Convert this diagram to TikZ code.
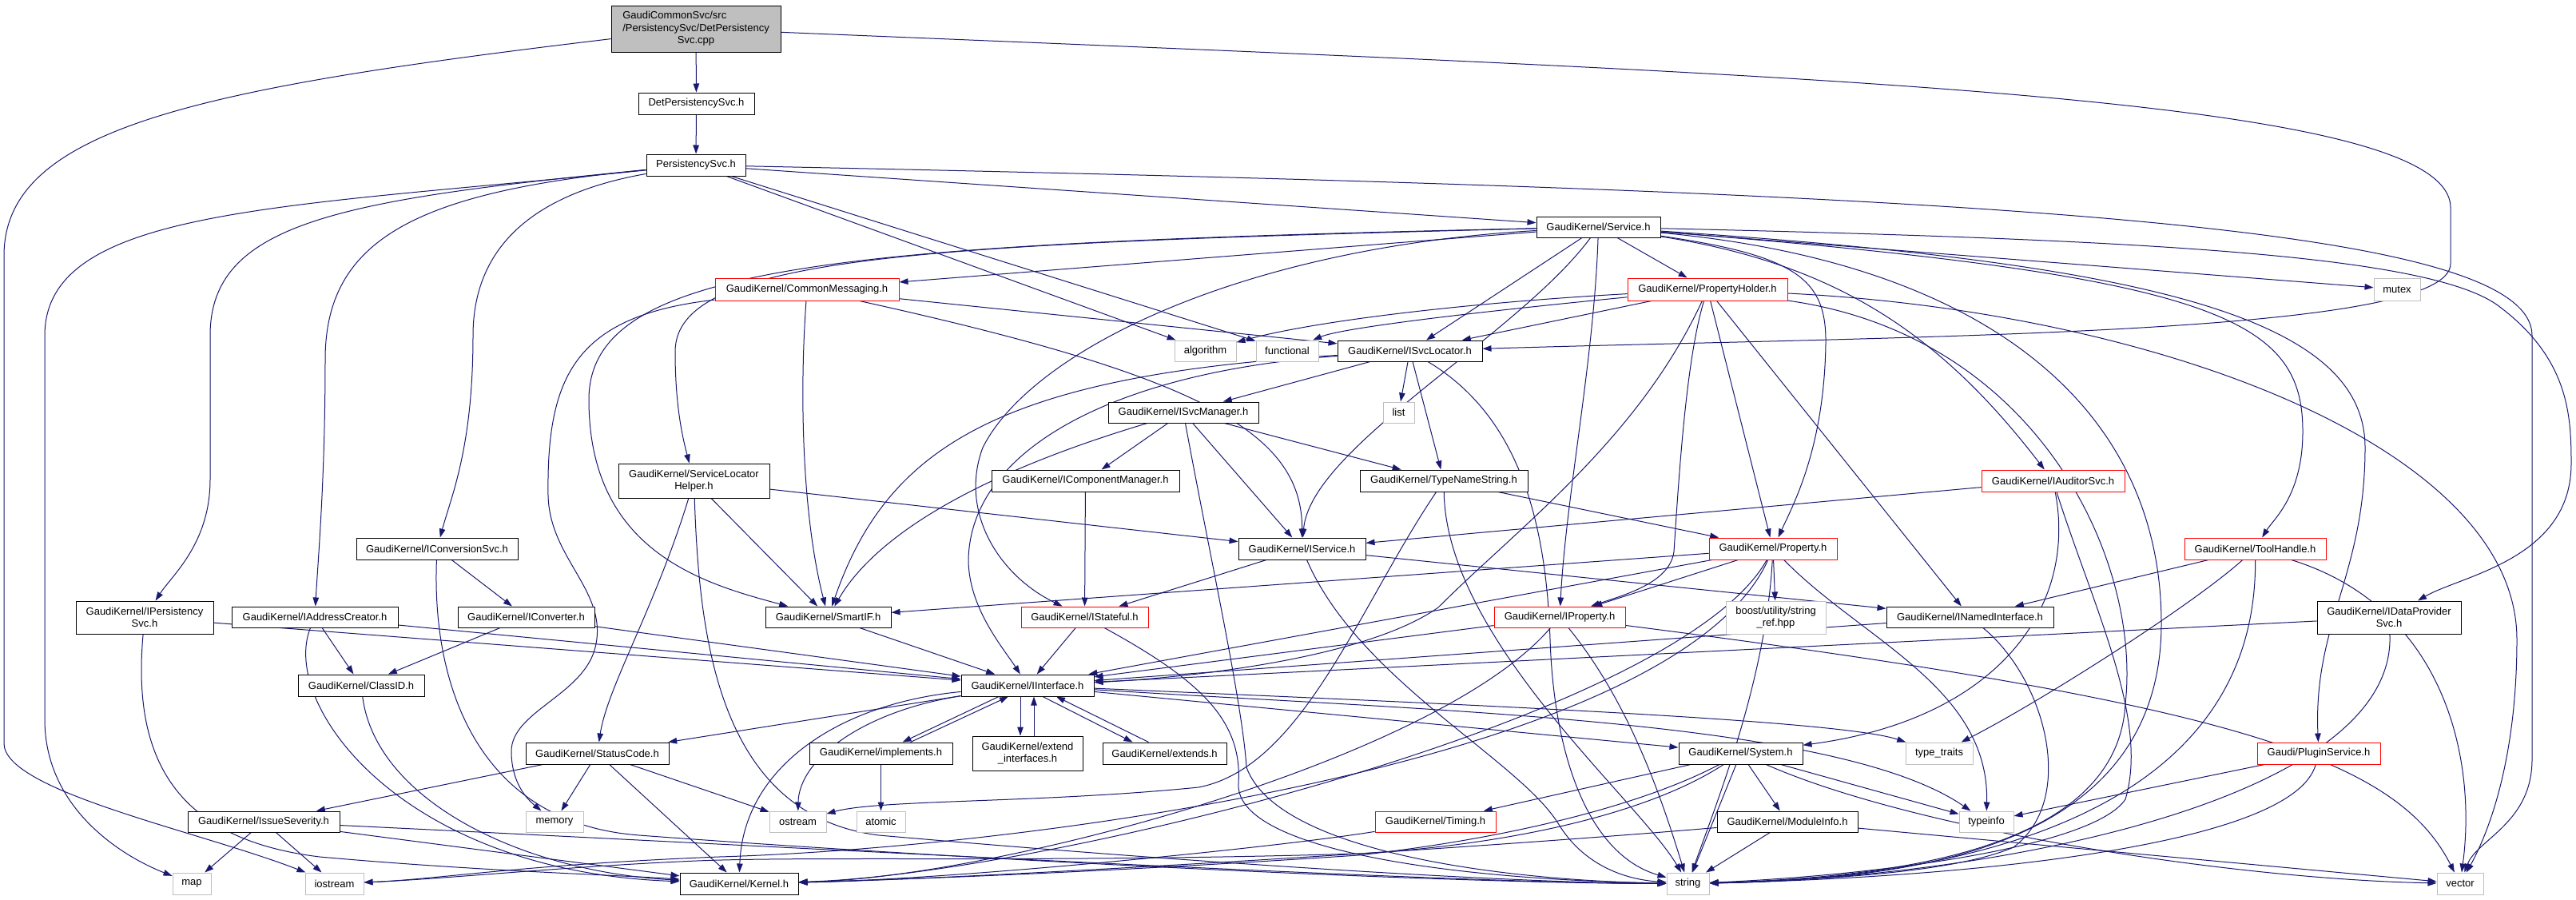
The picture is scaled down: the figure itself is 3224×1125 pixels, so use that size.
\documentclass[tikz,border=0pt]{standalone}
\usepackage{fontspec}
\setmainfont{Liberation Sans}
\usetikzlibrary{arrows.meta,backgrounds}
\definecolor{eb}{HTML}{191970}
\definecolor{gb}{HTML}{BFBFBF}
\begin{document}
\begin{tikzpicture}[x=1pt,y=-1pt,
  every node/.style={font=\fontsize{13}{15.5}\selectfont, inner sep=0pt, line width=1pt, text=black},
  bx/.style n args={2}{minimum width=#1pt, minimum height=#2pt},
  nb/.style={draw=black, fill=white},
  nr/.style={draw=red, fill=white},
  ng/.style={draw=gb, fill=white},
  e/.style={draw=eb, line width=1pt, -{Triangle[length=11pt,width=7.5pt]}}]
\useasboundingbox (0,0) rectangle (3224,1125);
% nodes
\node[nb,fill=gb,bx={212}{58},align=center] (cpp) at (871,36) {\rlap{GaudiCommonSvc/src}\phantom{/PersistencySvc/DetPersistency}\\/PersistencySvc/DetPersistency\\Svc.cpp};
\node[nb,bx={145}{27}] (det) at (871.5,129.5) {DetPersistencySvc.h};
\node[nb,bx={124}{27}] (pers) at (871,206.5) {PersistencySvc.h};
\node[nb,bx={155}{26}] (svc) at (2000.5,284) {GaudiKernel/Service.h};
\node[nr,bx={230}{28}] (cmsg) at (1010,362) {GaudiKernel/CommonMessaging.h};
\node[nr,bx={200}{28}] (phold) at (2137,362) {GaudiKernel/PropertyHolder.h};
\node[ng,bx={58}{28}] (mutex) at (3000,362) {mutex};
\node[ng,bx={77}{26}] (algo) at (1508.5,439) {algorithm};
\node[ng,bx={78}{26}] (func) at (1611,439) {functional};
\node[nb,bx={181}{26}] (isl) at (1764.5,439) {GaudiKernel/ISvcLocator.h};
\node[nb,bx={188}{26}] (ism) at (1481,516) {GaudiKernel/ISvcManager.h};
\node[ng,bx={39}{26}] (list) at (1750.5,516) {list};
\node[nb,bx={189}{43},align=center] (slh) at (868.5,601.5) {GaudiKernel/ServiceLocator\\Helper.h};
\node[nb,bx={235}{27}] (icm) at (1358.5,601.5) {GaudiKernel/IComponentManager.h};
\node[nb,bx={210}{27}] (tns) at (1807,601.5) {GaudiKernel/TypeNameString.h};
\node[nr,bx={179}{27}] (iaud) at (2569.5,601.5) {GaudiKernel/IAuditorSvc.h};
\node[nb,bx={202}{27}] (icvs) at (547,686.5) {GaudiKernel/IConversionSvc.h};
\node[nb,bx={159}{27}] (isv) at (1629.5,686.5) {GaudiKernel/IService.h};
\node[nr,bx={160}{27}] (prop) at (2219,686.5) {GaudiKernel/Property.h};
\node[nr,bx={177}{27}] (tool) at (2822.5,686.5) {GaudiKernel/ToolHandle.h};
\node[nb,bx={172}{41},align=center] (ipers) at (181,772.5) {GaudiKernel/IPersistency\\Svc.h};
\node[nb,bx={208}{26}] (iadd) at (394,772) {GaudiKernel/IAddressCreator.h};
\node[nb,bx={171}{26}] (icnv) at (658.5,772) {GaudiKernel/IConverter.h};
\node[nb,bx={157}{26}] (sif) at (1036.5,772) {GaudiKernel/SmartIF.h};
\node[nr,bx={159}{26}] (istf) at (1357.5,772) {GaudiKernel/IStateful.h};
\node[nr,bx={164}{26}] (iprop) at (1952,772) {GaudiKernel/IProperty.h};
\node[ng,bx={125}{41},align=center] (boost) at (2222.5,772.5) {boost/utility/string\\\_ref.hpp};
\node[nb,bx={209}{26}] (inam) at (2465.5,772) {GaudiKernel/INamedInterface.h};
\node[nb,bx={180}{41},align=center] (idps) at (2990,772.5) {GaudiKernel/IDataProvider\\Svc.h};
\node[nb,bx={158}{27}] (clid) at (452,857.5) {GaudiKernel/ClassID.h};
\node[nb,bx={166}{27}] (iif) at (1286,857.5) {GaudiKernel/IInterface.h};
\node[nb,bx={179}{27}] (stc) at (747.5,942.5) {GaudiKernel/StatusCode.h};
\node[nb,bx={179}{27}] (impl) at (1102.5,942.5) {GaudiKernel/implements.h};
\node[nb,bx={138}{43},align=center] (extif) at (1286,942.5) {GaudiKernel/extend\\\_interfaces.h};
\node[nb,bx={155}{27}] (exts) at (1457.5,942.5) {GaudiKernel/extends.h};
\node[nb,bx={155}{27}] (sys) at (2178.5,942.5) {GaudiKernel/System.h};
\node[ng,bx={84}{27}] (ttr) at (2427,942.5) {type\_traits};
\node[nr,bx={154}{27}] (plug) at (2902,942.5) {Gaudi/PluginService.h};
\node[nb,bx={190}{26}] (iss) at (330,1028) {GaudiKernel/IssueSeverity.h};
\node[ng,bx={72}{26}] (mem) at (694,1028) {memory};
\node[ng,bx={71}{26}] (ostr) at (998.5,1028) {ostream};
\node[ng,bx={61}{26}] (atom) at (1102.5,1028) {atomic};
\node[nr,bx={151}{26}] (tim) at (1796.5,1028) {GaudiKernel/Timing.h};
\node[nb,bx={176}{26}] (modi) at (2237,1028) {GaudiKernel/ModuleInfo.h};
\node[ng,bx={68}{26}] (tinfo) at (2486,1028) {typeinfo};
\node[ng,bx={48}{27}] (map) at (240,1105.5) {map};
\node[ng,bx={73}{27}] (iostr) at (418.5,1105.5) {iostream};
\node[nb,bx={148}{27}] (kern) at (925,1105.5) {GaudiKernel/Kernel.h};
\node[ng,bx={53}{27}] (str) at (2112.5,1105.5) {string};
\node[ng,bx={58}{27}] (vec) at (3079,1105.5) {vector};
\begin{pgfonlayer}{background}
\fill[white] (0,0) rectangle (3224,1125);
% cpp
\draw[e] (cpp) -- (det);
\draw[e] (cpp) .. controls (250,110) and (5,160) .. (5,320) -- (5,930) .. controls (5,990) and (250,1040) .. (iostr);
\draw[e] (cpp) .. controls (2300,95) and (3067,120) .. (3067,260) -- (3067,330) .. controls (3067,420) and (2400,420) .. (isl);
\draw[e] (det) -- (pers);
% PersistencySvc
\draw[e] (pers) .. controls (350,260) and (56,260) .. (56,420) -- (56,900) .. controls (56,1010) and (150,1070) .. (map);
\draw[e] (pers) .. controls (420,250) and (263,280) .. (263,420) -- (263,600) .. controls (263,680) and (215,720) .. (ipers);
\draw[e] (pers) .. controls (520,240) and (407,300) .. (407,450) .. controls (407,600) and (398,700) .. (iadd);
\draw[e] (pers) .. controls (680,240) and (592,300) .. (592,420) .. controls (592,560) and (565,620) .. (icvs);
\draw[e] (pers) -- (algo);
\draw[e] (pers) -- (func);
\draw[e] (pers) -- (svc);
\draw[e] (pers) .. controls (2500,240) and (3169,280) .. (3169,420) -- (3169,950) .. controls (3169,1030) and (3100,1050) .. (vec);
% Service
\draw[e] (svc) -- (cmsg);
\draw[e] (svc) -- (phold);
\draw[e] (svc) -- (mutex);
\draw[e] (svc) -- (isl);
\draw[e] (svc) .. controls (1900,420) and (1640,560) .. (isv);
\draw[e] (svc) .. controls (1995,450) and (1960,620) .. (iprop);
\draw[e] (svc) .. controls (1150,305) and (845,320) .. (845,440) .. controls (845,510) and (855,550) .. (slh);
\draw[e] (svc) .. controls (1050,305) and (737,330) .. (737,500) .. controls (737,690) and (880,730) .. (sif);
\draw[e] (svc) .. controls (1550,310) and (1290,440) .. (1230,560) .. controls (1200,640) and (1250,720) .. (istf);
\draw[e] (svc) .. controls (2250,320) and (2286,350) .. (2285,430) .. controls (2283,560) and (2245,630) .. (prop);
\draw[e] (svc) .. controls (2300,330) and (2430,420) .. (iaud);
\draw[e] (svc) .. controls (2780,345) and (2882,400) .. (2882,540) .. controls (2882,620) and (2845,650) .. (tool);
\draw[e] (svc) .. controls (2700,330) and (2960,400) .. (2960,560) .. controls (2960,720) and (2895,780) .. (plug);
\draw[e] (svc) .. controls (2700,300) and (3050,320) .. (3130,385) .. controls (3215,450) and (3218,520) .. (3218,580) .. controls (3218,700) and (3080,720) .. (idps);
\draw[e] (svc) .. controls (2500,330) and (2705,520) .. (2705,780) .. controls (2705,1080) and (2350,1100) .. (str);
% CommonMessaging
\draw[e] (cmsg) -- (isl);
\draw[e] (cmsg) .. controls (1500,470) and (1630,540) .. (isv);
\draw[e] (cmsg) .. controls (1000,500) and (1005,650) .. (sif);
\draw[e] (cmsg) .. controls (720,395) and (684,470) .. (686,620) .. controls (688,700) and (762,740) .. (745,810) .. controls (730,870) and (640,890) .. (640,940) .. controls (640,980) and (660,1000) .. (mem);
% PropertyHolder
\draw[e] (phold) .. controls (1850,378) and (1650,400) .. (algo);
\draw[e] (phold) .. controls (1850,390) and (1680,410) .. (func);
\draw[e] (phold) -- (isl);
\draw[e] (phold) -- (prop);
\draw[e] (phold) -- (inam);
\draw[e] (phold) .. controls (2110,450) and (2101,600) .. (2095,690) .. controls (2090,730) and (2030,745) .. (iprop);
\draw[e] (phold) .. controls (2050,550) and (1900,660) .. (1800,760) .. controls (1700,830) and (1450,850) .. (iif);
\draw[e] (phold) .. controls (2700,390) and (3150,560) .. (3150,800) .. controls (3150,960) and (3110,1050) .. (vec);
\draw[e] (phold) .. controls (2550,420) and (2680,700) .. (2660,880) .. controls (2650,1070) and (2350,1098) .. (str);
% ISvcLocator
\draw[e] (isl) -- (list);
\draw[e] (isl) -- (tns);
\draw[e] (isl) -- (ism);
\draw[e] (isl) .. controls (1250,470) and (1110,560) .. (sif);
\draw[e] (isl) .. controls (1400,465) and (1215,560) .. (1212,700) .. controls (1212,760) and (1255,810) .. (iif);
\draw[e] (isl) .. controls (1900,520) and (1935,650) .. (1940,800) .. controls (1945,950) and (1990,1070) .. (str);
% ISvcManager
\draw[e] (ism) -- (icm);
\draw[e] (ism) -- (isv);
\draw[e] (ism) -- (tns);
\draw[e] (ism) .. controls (1200,600) and (1090,680) .. (sif);
\draw[e] (ism) .. controls (1515,700) and (1555,880) .. (1560,960) .. controls (1600,1070) and (1900,1102) .. (str);
\draw[e] (icm) -- (istf);
% TypeNameString
\draw[e] (tns) .. controls (1810,800) and (2050,1000) .. (str);
\draw[e] (tns) .. controls (1700,760) and (1630,960) .. (1500,985) .. controls (1300,1005) and (1100,1000) .. (ostr);
\draw[e] (tns) -- (prop);
% ServiceLocatorHelper
\draw[e] (slh) -- (isv);
\draw[e] (slh) -- (sif);
\draw[e] (slh) .. controls (820,760) and (760,860) .. (stc);
\draw[e] (slh) .. controls (875,800) and (900,1020) .. (1100,1045) .. controls (1500,1080) and (1900,1105) .. (str);
% IConversionSvc
\draw[e] (icvs) -- (icnv);
\draw[e] (icvs) .. controls (540,860) and (600,1030) .. (800,1045) .. controls (1200,1075) and (1800,1105) .. (str);
% IPersistencySvc
\draw[e] (ipers) -- (iif);
\draw[e] (ipers) .. controls (165,950) and (220,1050) .. (400,1072) .. controls (600,1090) and (780,1095) .. (kern);
% IAddressCreator
\draw[e] (iadd) -- (clid);
\draw[e] (iadd) -- (iif);
\draw[e] (iadd) .. controls (350,880) and (500,1090) .. (kern);
% IConverter
\draw[e] (icnv) -- (clid);
\draw[e] (icnv) -- (iif);
\draw[e] (clid) .. controls (470,1000) and (650,1090) .. (kern);
\draw[e] (sif) -- (iif);
\draw[e] (istf) -- (iif);
\draw[e] (istf) .. controls (1500,850) and (1555,900) .. (1550,980) .. controls (1545,1060) and (1800,1100) .. (str);
% IService
\draw[e] (isv) -- (istf);
\draw[e] (isv) -- (inam);
\draw[e] (isv) .. controls (1700,850) and (1900,950) .. (1950,1030) .. controls (1980,1080) and (2030,1100) .. (str);
% IAuditorSvc
\draw[e] (iaud) -- (isv);
\draw[e] (iaud) .. controls (2600,760) and (2500,900) .. (sys);
\draw[e] (iaud) .. controls (2620,760) and (2690,900) .. (2660,1000) .. controls (2620,1060) and (2350,1095) .. (str);
% IProperty
\draw[e] (iprop) -- (iif);
\draw[e] (iprop) .. controls (2040,880) and (2080,1000) .. (str);
\draw[e] (iprop) .. controls (1800,950) and (1250,1098) .. (kern);
\draw[e] (iprop) .. controls (2800,880) and (3000,950) .. (vec);
% Property
\draw[e] (prop) -- (iprop);
\draw[e] (prop) -- (boost);
\draw[e] (prop) -- (sif);
\draw[e] (prop) -- (iif);
\draw[e] (prop) .. controls (2330,800) and (2490,860) .. (tinfo);
\draw[e] (prop) .. controls (2210,850) and (2150,1000) .. (str);
\draw[e] (prop) .. controls (2100,900) and (1300,1095) .. (kern);
\draw[e] (prop) .. controls (2100,950) and (1300,1060) .. (900,1072) .. controls (650,1082) and (550,1100) .. (iostr);
% ToolHandle
\draw[e] (tool) -- (inam);
\draw[e] (tool) .. controls (2740,760) and (2550,880) .. (ttr);
\draw[e] (tool) .. controls (2825,1000) and (2500,1098) .. (str);
\draw[e] (tool) .. controls (3060,760) and (3100,950) .. (vec);
% INamedInterface, IDataProviderSvc, PluginService
\draw[e] (inam) -- (iif);
\draw[e] (inam) .. controls (2560,850) and (2600,1000) .. (2520,1060) .. controls (2450,1090) and (2300,1100) .. (str);
\draw[e] (idps) -- (iif);
\draw[e] (idps) .. controls (3000,1000) and (2500,1098) .. (str);
\draw[e] (plug) -- (tinfo);
\draw[e] (plug) .. controls (2870,1060) and (2450,1098) .. (str);
% System
\draw[e] (sys) -- (str);
\draw[e] (sys) -- (modi);
\draw[e] (sys) -- (tinfo);
\draw[e] (sys) -- (tim);
\draw[e] (sys) .. controls (2050,1010) and (1880,1050) .. (1700,1070) .. controls (1400,1090) and (1150,1100) .. (kern);
\draw[e] (sys) .. controls (2060,1020) and (1880,1058) .. (1700,1068) .. controls (1300,1080) and (1000,1070) .. (850,1078) .. controls (700,1085) and (550,1100) .. (iostr);
\draw[e] (sys) .. controls (2400,1040) and (2800,1100) .. (vec);
\draw[e] (modi) -- (str);
\draw[e] (modi) -- (vec);
\draw[e] (modi) .. controls (1800,1065) and (1200,1100) .. (kern);
\draw[e] (tim) .. controls (1600,1060) and (1200,1100) .. (kern);
% IInterface
\draw[e] (iif) -- (stc);
\draw[e] (iif) .. controls (1050,880) and (930,960) .. (kern);
\draw[e] (iif) .. controls (1080,890) and (1000,950) .. (ostr);
\draw[e] ([xshift=-36pt]iif.south) -- ([xshift=27pt]impl.north);
\draw[e] ([xshift=37pt]impl.north) -- ([xshift=-24pt]iif.south);
\draw[e] ([xshift=-9pt]iif.south) -- ([xshift=-9pt]extif.north);
\draw[e] ([xshift=8pt]extif.north) -- ([xshift=8pt]iif.south);
\draw[e] ([xshift=19pt]iif.south) -- ([xshift=-40pt]exts.north);
\draw[e] ([xshift=-20pt]exts.north) -- ([xshift=36pt]iif.south);
\draw[e] (iif) -- (sys);
\draw[e] (iif) .. controls (1800,880) and (2300,900) .. (ttr);
\draw[e] (iif) .. controls (1800,890) and (2300,900) .. (tinfo);
\draw[e] (impl) -- (atom);
% StatusCode, IssueSeverity
\draw[e] (stc) -- (iss);
\draw[e] (stc) -- (mem);
\draw[e] (stc) -- (ostr);
\draw[e] (stc) -- (kern);
\draw[e] (iss) -- (map);
\draw[e] (iss) -- (iostr);
\draw[e] (iss) -- (kern);
\draw[e] (iss) .. controls (1000,1060) and (1800,1105) .. (str);
\end{pgfonlayer}
\end{tikzpicture}
\end{document}
